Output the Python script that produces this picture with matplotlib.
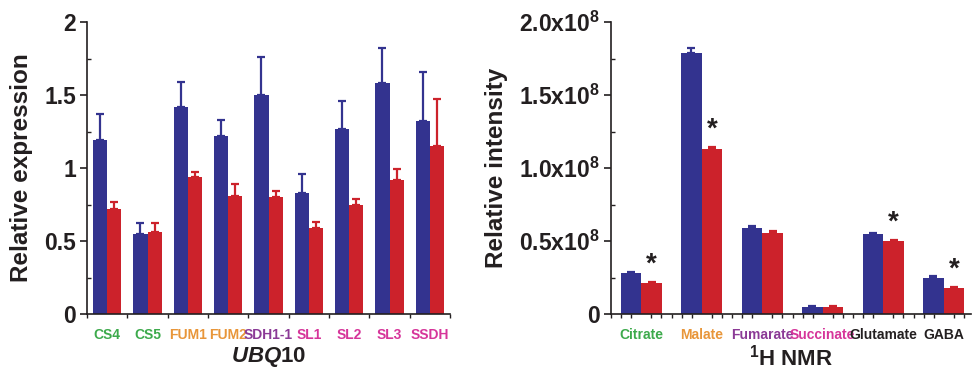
import matplotlib
matplotlib.use("Agg")
import matplotlib.pyplot as plt
import numpy as np
from matplotlib.ticker import FixedLocator

plt.rcParams["font.family"] = ["Liberation Sans", "DejaVu Sans"]
plt.rcParams["font.weight"] = "bold"
plt.rcParams["axes.labelweight"] = "bold"
plt.rcParams["mathtext.fontset"] = "custom"
plt.rcParams["mathtext.rm"] = "Liberation Sans:bold"
plt.rcParams["mathtext.bf"] = "Liberation Sans:bold"
plt.rcParams["mathtext.it"] = "Liberation Sans:bold:italic"

BLUE = "#33338f"
RED = "#cc222b"
GREEN = "#3daa4c"
ORANGE = "#e8963a"
PURPLE = "#8b3a96"
MAGENTA = "#d6359a"
DARK = "#231f20"

# left panel: qRT-PCR, normalised to UBQ10
genes = ["CS4", "CS5", "FUM1", "FUM2", "SDH1-1", "SL1", "SL2", "SL3", "SSDH"]
gene_colors = [GREEN, GREEN, ORANGE, ORANGE, PURPLE, MAGENTA, MAGENTA, MAGENTA, MAGENTA]
expr_blue = [1.19, 0.55, 1.42, 1.22, 1.50, 0.83, 1.27, 1.58, 1.32]
expr_blue_err = [0.18, 0.07, 0.17, 0.11, 0.26, 0.13, 0.19, 0.24, 0.34]
expr_red = [0.72, 0.56, 0.94, 0.81, 0.80, 0.59, 0.75, 0.92, 1.15]
expr_red_err = [0.05, 0.06, 0.03, 0.08, 0.04, 0.04, 0.04, 0.07, 0.32]
expr_ticks = [0, 0.5, 1, 1.5, 2]
expr_tick_labels = ["0", "0.5", "1", "1.5", "2"]

# right panel: 1H NMR metabolites (x1e8)
metabolites = ["Citrate", "Malate", "Fumarate", "Succinate", "Glutamate", "GABA"]
met_colors = [GREEN, ORANGE, PURPLE, MAGENTA, DARK, DARK]
nmr_blue = [0.28, 1.79, 0.59, 0.05, 0.545, 0.25]
nmr_blue_err = [0.006, 0.03, 0.012, 0.003, 0.008, 0.008]
nmr_red = [0.21, 1.13, 0.555, 0.05, 0.50, 0.18]
nmr_red_err = [0.006, 0.017, 0.015, 0.003, 0.007, 0.008]
nmr_signif = [True, True, False, False, True, True]
nmr_ticks = [0, 0.5, 1.0, 1.5, 2.0]
nmr_tick_labels = ["0", r"0.5x10$^{8}$", r"1.0x10$^{8}$", r"1.5x10$^{8}$", r"2.0x10$^{8}$"]

fig = plt.figure(figsize=(9.72, 3.70), dpi=100)
ax1 = fig.add_axes([87 / 972, 56 / 370, 363 / 972, 292 / 370])
ax2 = fig.add_axes([611 / 972, 56 / 370, 360 / 972, 292 / 370])


def draw_pairs(ax, blue, blue_err, red, red_err, width):
    x = np.arange(len(blue))
    zeros = np.zeros(len(blue))
    ax.bar(x - width / 2, blue, width, color=BLUE, zorder=2,
           yerr=[zeros, blue_err], error_kw=dict(ecolor=BLUE, capsize=3, elinewidth=1.6, capthick=1.6))
    ax.bar(x + width / 2, red, width, color=RED, zorder=2,
           yerr=[zeros, red_err], error_kw=dict(ecolor=RED, capsize=3, elinewidth=1.6, capthick=1.6))
    return x


def style_axis(ax, ticks, tick_labels, labelsize):
    for side in ("top", "right"):
        ax.spines[side].set_visible(False)
    for side in ("left", "bottom"):
        ax.spines[side].set_linewidth(1.2)
        ax.spines[side].set_color(DARK)
    ax.set_ylim(0, 2)
    ax.set_yticks(ticks, tick_labels, fontsize=labelsize, fontweight="bold")
    ax.yaxis.set_minor_locator(FixedLocator(np.arange(0.25, 2, 0.5)))
    ax.tick_params(axis="y", which="major", direction="out", length=5, width=1.2, pad=3, colors=DARK)
    ax.tick_params(axis="y", which="minor", direction="in", length=3, width=1, colors=DARK)
    ax.tick_params(axis="x", which="major", length=0, pad=10)
    ax.tick_params(axis="x", which="minor", direction="out", length=3, width=1, colors=DARK)


x1 = draw_pairs(ax1, expr_blue, expr_blue_err, expr_red, expr_red_err, 0.35)
style_axis(ax1, expr_ticks, expr_tick_labels, 16.5)
ax1.set_xlim(-0.5, len(genes) - 0.5)
ax1.set_xticks(x1, genes, fontsize=10, fontweight="bold")
for lab, c in zip(ax1.get_xticklabels(), gene_colors):
    lab.set_color(c)
ax1.xaxis.set_minor_locator(FixedLocator(np.arange(-0.5, len(genes), 0.5)))
ax1.set_ylabel("Relative expression", fontsize=17.5, labelpad=8, color=DARK)
ax1.set_xlabel(r"$\mathit{UBQ}$10", fontsize=16, labelpad=2, color=DARK)

x2 = draw_pairs(ax2, nmr_blue, nmr_blue_err, nmr_red, nmr_red_err, 0.34)
style_axis(ax2, nmr_ticks, nmr_tick_labels, 16.5)
ax2.set_xlim(-0.5, 5.45)
ax2.set_xticks(x2, metabolites, fontsize=10, fontweight="bold")
for lab, c in zip(ax2.get_xticklabels(), met_colors):
    lab.set_color(c)
ax2.xaxis.set_minor_locator(FixedLocator(np.arange(-0.5, len(metabolites), 1 / 6)))
ax2.set_ylabel("Relative intensity", fontsize=17.5, labelpad=8, color=DARK)
ax2.set_xlabel(r"$^{1}$H NMR", fontsize=16, labelpad=2, color=DARK)

for xi, val, err, sig in zip(x2, nmr_red, nmr_red_err, nmr_signif):
    if sig:
        ax2.text(xi + 0.17, val + err + 0.03, "*", ha="center", va="bottom", fontsize=20, color=DARK)

fig.savefig("out.png", dpi=100)
